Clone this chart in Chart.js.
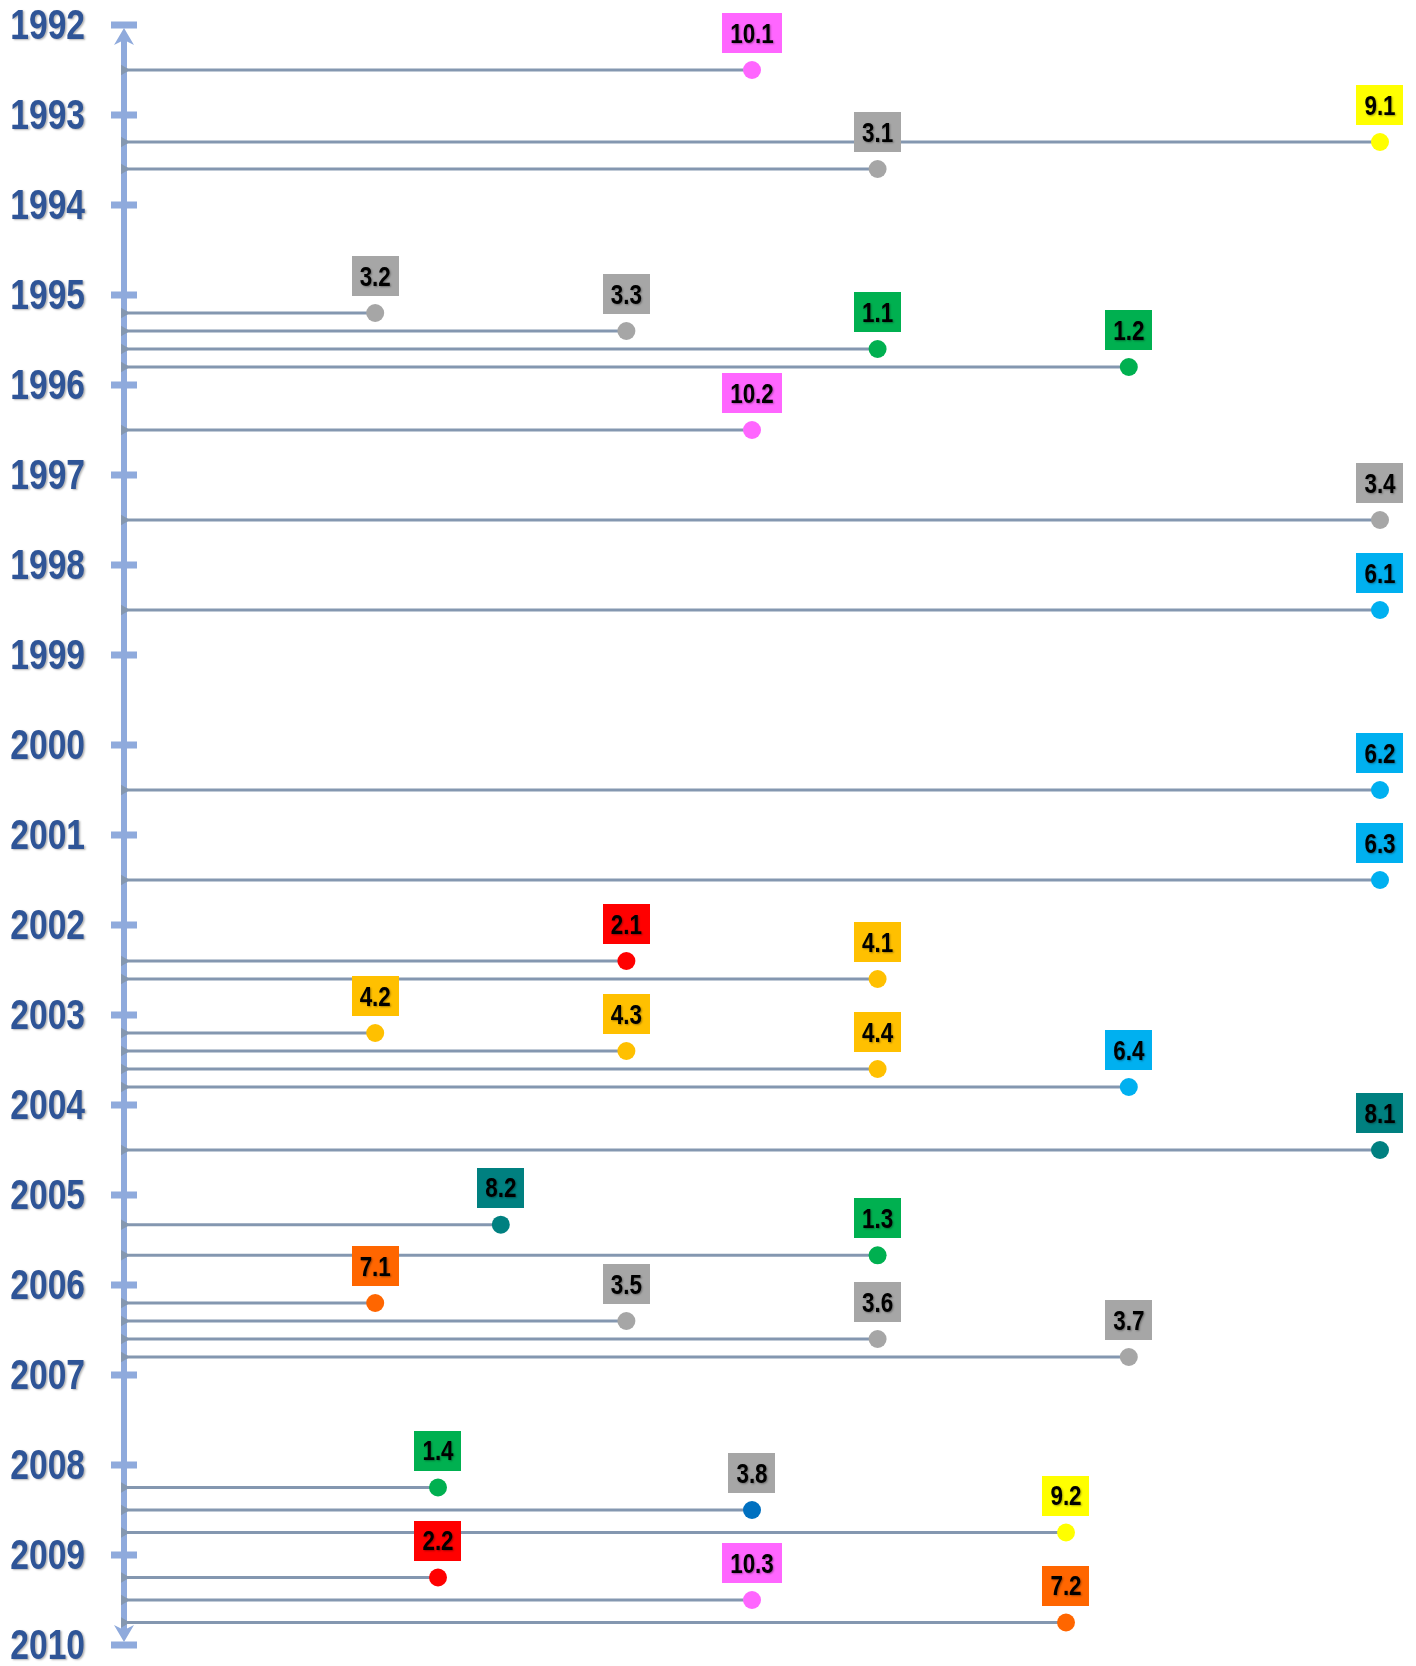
<!DOCTYPE html>
<html>
<head>
<meta charset="utf-8">
<script src="https://cdn.jsdelivr.net/npm/chart.js@4.4.1/dist/chart.umd.min.js"></script>
<style>
  html, body { margin: 0; padding: 0; background: #fff; }
  #wrap { width: 1416px; height: 1666px; position: relative; }
</style>
</head>
<body>
<div id="wrap"><canvas id="timeline"></canvas></div>
<script>
// tick labels on the time axis
var yearTicks = [1992,1993,1994,1995,1996,1997,1998,1999,2000,2001,2002,2003,2004,2005,2006,2007,2008,2009,2010];

// events: label, when (year), how far out (level)
var eventLabels = ['10.1','9.1','3.1','3.2','3.3','1.1','1.2','10.2','3.4','6.1','6.2','6.3','2.1','4.1','4.2','4.3','4.4','6.4','8.1','8.2','1.3','7.1','3.5','3.6','3.7','1.4','3.8','9.2','2.2','10.3','7.2'];
var eventTimes = [1992.5,1993.3,1993.6,1995.2,1995.4,1995.6,1995.8,1996.5,1997.5,1998.5,2000.5,2001.5,2002.4,2002.6,2003.2,2003.4,2003.6,2003.8,2004.5,2005.33,2005.67,2006.2,2006.4,2006.6,2006.8,2008.25,2008.5,2008.75,2009.25,2009.5,2009.75];
var eventLevels = [2.5,5,3,1,2,3,4,2.5,5,5,5,5,2,3,1,2,3,4,5,1.5,3,1,2,3,4,1.25,2.5,3.75,1.25,2.5,3.75];

// colours per group (the number before the dot)
var groupColors = {
  '1': '#00B050', '2': '#FF0000', '3': '#A6A6A6', '4': '#FFC000', '6': '#00B0F0',
  '7': '#FF6600', '8': '#008080', '9': '#FFFF00', '10': '#FF66FF'
};
var dotOverride = { '3.8': '#0070C0' };
var stemColor = '#8497B0';
var axisColor = '#8FAADC';
var yearColor = '#2F5597';
var fontFam = "'Liberation Sans', Arial, sans-serif";
var squeeze = 0.8; // no narrow font installed, so squash Arial-like text

function groupOf(lab) { return lab.split('.')[0]; }

var datasets = eventLabels.map(function (lab, i) {
  var c = dotOverride[lab] || groupColors[groupOf(lab)];
  return {
    label: lab,
    data: [{x: 0, y: eventTimes[i]}, {x: eventLevels[i], y: eventTimes[i]}],
    borderColor: stemColor,
    borderWidth: 3,
    pointStyle: ['triangle', 'circle'],
    pointRotation: [90, 0],
    pointRadius: [6, 9],
    pointBorderWidth: 0,
    pointBackgroundColor: [stemColor, c],
    clip: false
  };
});

function narrowText(ctx, txt, x, y) {
  ctx.save();
  ctx.translate(x, y);
  ctx.scale(squeeze, 1);
  ctx.fillText(txt, 0, 0);
  ctx.restore();
}

// vertical axis with cross ticks, arrow heads and year labels
var axisPlugin = {
  id: 'timeAxis',
  beforeDatasetsDraw: function (chart) {
    var ctx = chart.ctx;
    var ys = chart.scales.y, xs = chart.scales.x;
    var ax = xs.getPixelForValue(0);
    var top = ys.getPixelForValue(yearTicks[0]);
    var bot = ys.getPixelForValue(yearTicks[yearTicks.length - 1]);
    ctx.save();
    ctx.strokeStyle = axisColor;
    ctx.fillStyle = axisColor;
    ctx.lineWidth = 6;
    ctx.beginPath();
    ctx.moveTo(ax, top + 8);
    ctx.lineTo(ax, bot - 8);
    ctx.stroke();
    ys.ticks.forEach(function (t) {
      var ty = ys.getPixelForValue(t.value);
      ctx.fillRect(ax - 13, ty - 3.5, 26, 7);
    });
    function arrow(tipY, dir) {
      ctx.beginPath();
      ctx.moveTo(ax, tipY);
      ctx.lineTo(ax - 10, tipY + dir * 17);
      ctx.lineTo(ax, tipY + dir * 12);
      ctx.lineTo(ax + 10, tipY + dir * 17);
      ctx.closePath();
      ctx.fill();
    }
    arrow(top + 3, 1);
    arrow(bot - 3, -1);

    // year labels
    ctx.font = 'bold 42px ' + fontFam;
    ctx.textAlign = 'right';
    ctx.textBaseline = 'middle';
    ctx.fillStyle = yearColor;
    ctx.shadowColor = 'rgba(0,0,0,0.3)';
    ctx.shadowOffsetX = 1.5;
    ctx.shadowOffsetY = 1.5;
    ctx.shadowBlur = 2;
    ys.ticks.forEach(function (t) {
      narrowText(ctx, String(t.value), 85, ys.getPixelForValue(t.value) + 2);
    });
    ctx.restore();
  }
};

// coloured boxes with the event number above each dot
var boxPlugin = {
  id: 'eventBoxes',
  afterDatasetsDraw: function (chart) {
    var ctx = chart.ctx;
    var xs = chart.scales.x, ys = chart.scales.y;
    ctx.save();
    ctx.font = 'bold 28px ' + fontFam;
    ctx.textAlign = 'center';
    ctx.textBaseline = 'middle';
    for (var i = 0; i < eventLabels.length; i++) {
      var lab = eventLabels[i];
      var px = xs.getPixelForValue(eventLevels[i]);
      var py = ys.getPixelForValue(eventTimes[i]);
      var w = ctx.measureText(lab).width * squeeze + 16;
      var h = 40;
      var bottom = py - 17;
      ctx.shadowColor = 'transparent';
      ctx.fillStyle = groupColors[groupOf(lab)];
      ctx.fillRect(Math.round(px - w / 2), Math.round(bottom - h), Math.round(w), h);
      ctx.shadowColor = 'rgba(0,0,0,0.35)';
      ctx.shadowOffsetX = 1;
      ctx.shadowOffsetY = 1;
      ctx.shadowBlur = 2;
      ctx.fillStyle = '#000';
      narrowText(ctx, lab, px, bottom - h / 2 + 2);
    }
    ctx.restore();
  }
};

new Chart(document.getElementById('timeline').getContext('2d'), {
  type: 'line',
  data: { datasets: datasets },
  plugins: [axisPlugin, boxPlugin],
  options: {
    responsive: true,
    maintainAspectRatio: false,
    animation: false,
    layout: { padding: { top: 25, bottom: 21, right: 36, left: 0 } },
    plugins: { legend: { display: false }, tooltip: { enabled: false } },
    scales: {
      x: { type: 'linear', min: 0, max: 5, display: false },
      y: {
        type: 'linear',
        reverse: true,
        min: 1992,
        max: 2010,
        grid: { display: false, drawTicks: false },
        border: { display: false },
        afterBuildTicks: function (scale) {
          scale.ticks = yearTicks.map(function (v) { return {value: v}; });
        },
        afterFit: function (scale) { scale.width = 124; },
        ticks: { display: false }
      }
    }
  }
});
</script>
</body>
</html>
